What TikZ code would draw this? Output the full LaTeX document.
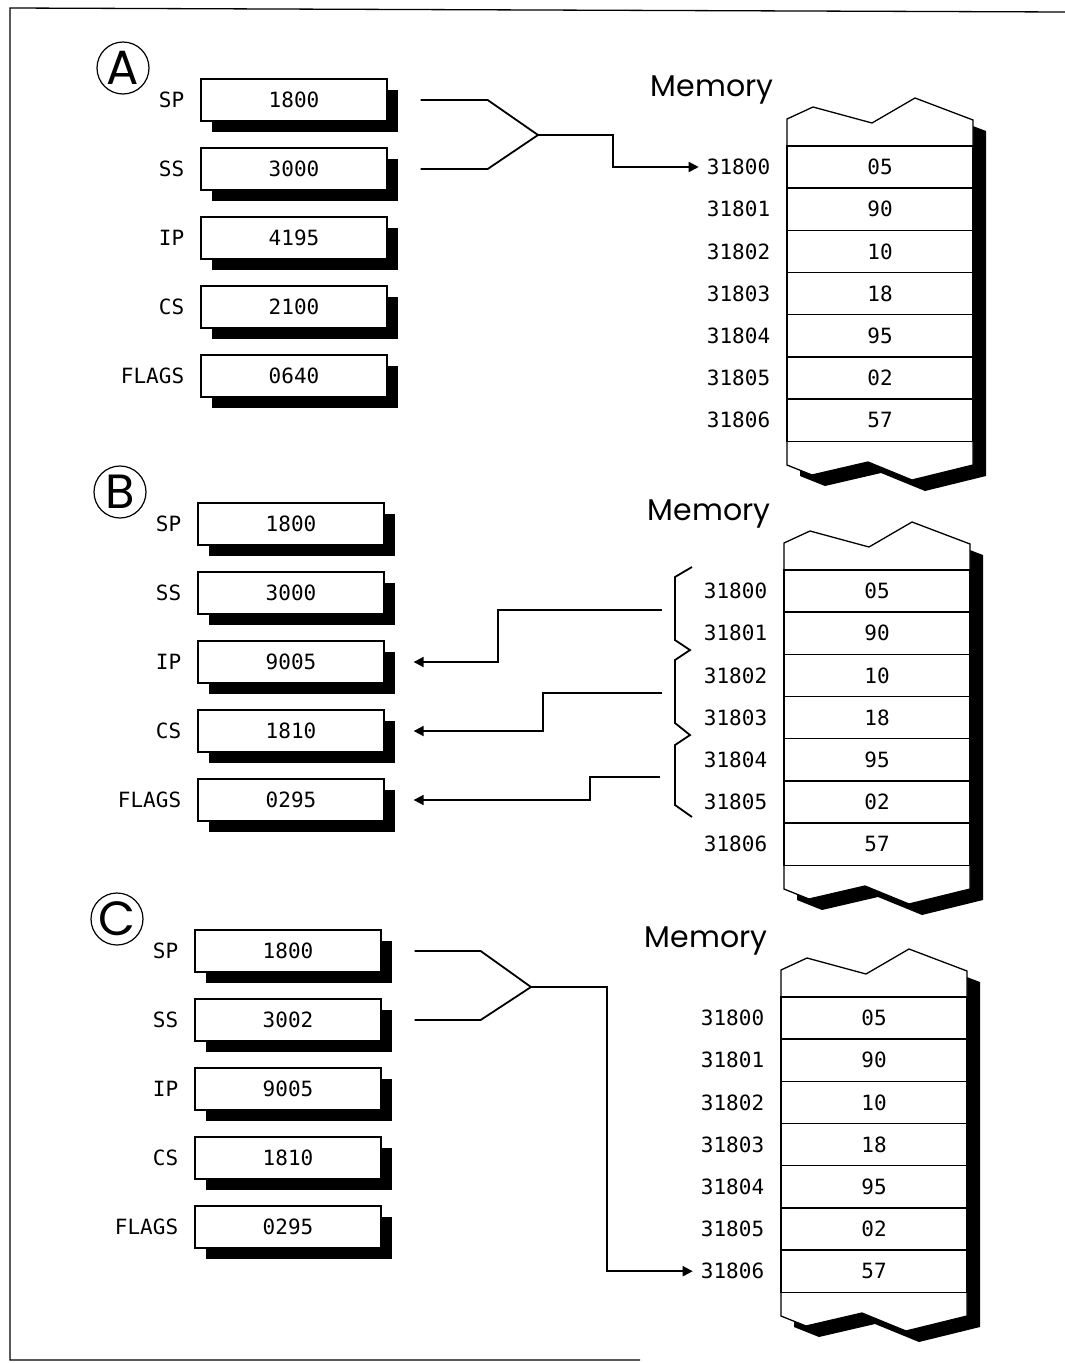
\documentclass[tikz,border=0pt]{standalone}
\usepackage{fontspec}
\usetikzlibrary{arrows.meta,calc,shadows}
\newfontfamily\regfont{DejaVu Sans Mono}
\newfontfamily\memfont{Poppins}

\tikzset{
  reg/.style={draw, line width=1.3pt, fill=white, minimum width=186pt, minimum height=42pt,
    inner sep=0pt, font=\regfont\fontsize{21}{23}\selectfont,
    general shadow={fill=black, shadow xshift=11pt, shadow yshift=-11pt}},
  regname/.style={anchor=east, inner sep=0pt, font=\regfont\fontsize{21}{23}\selectfont},
  cell/.style={draw, line width=1.3pt, minimum width=186pt, minimum height=42.2pt,
    inner sep=0pt, font=\regfont\fontsize{21}{23}\selectfont},
  addr/.style={anchor=east, inner sep=0pt, font=\regfont\fontsize{21}{23}\selectfont},
  tag/.style={draw, circle, line width=1.2pt, minimum size=52pt, inner sep=0pt,
    font=\memfont\fontsize{48}{48}\selectfont},
  title/.style={inner sep=0pt, font=\memfont\fontsize{30}{30}\selectfont},
  wire/.style={line width=1.8pt},
  arr/.style={wire, -{Triangle[length=10pt,width=10pt]}},
}

\begin{document}
\begin{tikzpicture}[x=1pt,y=-1pt]
  \useasboundingbox (0,0) rectangle (1065,1363);
  \draw[line width=1.3pt] (1065,12) -- (10,8) -- (10,1360) -- (640,1360);

  \foreach \p/\dx/\dy/\vals in {A/0/0/{1800,3000,4195,2100,0640},
                                 B/-3/424/{1800,3000,9005,1810,0295},
                                 C/-6/851/{1800,3002,9005,1810,0295}} {
    \begin{scope}[shift={(\dx,\dy)}]
      \node[tag] (tag\p) at (123,68) {\p};
      \foreach \v [count=\i] in \vals
        \node[reg] (reg\p\i) at (294,{100+69*(\i-1)}) {\v};
      \foreach \n [count=\i] in {SP,SS,IP,CS,FLAGS}
        \node[regname] (lbl\p\i) at ([xshift=-16pt]reg\p\i.west) {\n};

      \node[title] (title\p) at (712,90) {Memory};
      \fill[shift={(13,11)}] (787,119) -- (813,107) -- (872,123) -- (915,98) -- (973,120)
        -- (973,465) -- (912,480) -- (868,462) -- (812,475) -- (787,465) -- cycle;
      \filldraw[fill=white, line width=1.3pt] (787,119) -- (813,107) -- (872,123) -- (915,98)
        -- (973,120) -- (973,465) -- (912,480) -- (868,462) -- (812,475) -- (787,465) -- cycle;
      \foreach \v [count=\i from 0] in {05,90,10,18,95,02,57} {
        \node[cell] (cell\p\i) at (880,{167+42.2*\i}) {\v};
        \node[addr] (addr\p\i) at ([xshift=-16pt]cell\p\i.west) {3180\i};
      }
    \end{scope}
  }

  % A: SS:SP -> 31800
  \coordinate (jA) at (538,135);
  \draw[wire] ([xshift=33pt]regA1.east) -- ++(67,0) -- (jA);
  \draw[wire] ([xshift=33pt]regA2.east) -- ++(67,0) -- (jA);
  \draw[arr] (jA) -- ++(75,0) |- ([xshift=-8pt]addrA0.west);

  % B: pop into IP, CS, FLAGS
  \draw[wire] (692,567) -- (675,577) -- (675,640) -- (690,650) -- (675,660) -- (675,723)
    -- (690,735) -- (675,745) -- (675,805) -- (692,817);
  \coordinate (bB1) at (662,610);
  \coordinate (bB2) at (662,693);
  \coordinate (bB3) at (660,777);
  \draw[arr] (bB1) -- ++(-164,0) |- ([xshift=29pt]regB3.east);
  \draw[arr] (bB2) -- ++(-119,0) |- ([xshift=29pt]regB4.east);
  \draw[arr] (bB3) -- ++(-70,0) |- ([xshift=29pt]regB5.east);

  % C: SS:SP -> 31806
  \coordinate (jC) at (531,987);
  \draw[wire] ([xshift=33pt]regC1.east) -- ++(66,0) -- (jC);
  \draw[wire] ([xshift=33pt]regC2.east) -- ++(66,0) -- (jC);
  \draw[arr] (jC) -- ++(76,0) |- ([xshift=-8pt]addrC6.west);
\end{tikzpicture}
\end{document}
